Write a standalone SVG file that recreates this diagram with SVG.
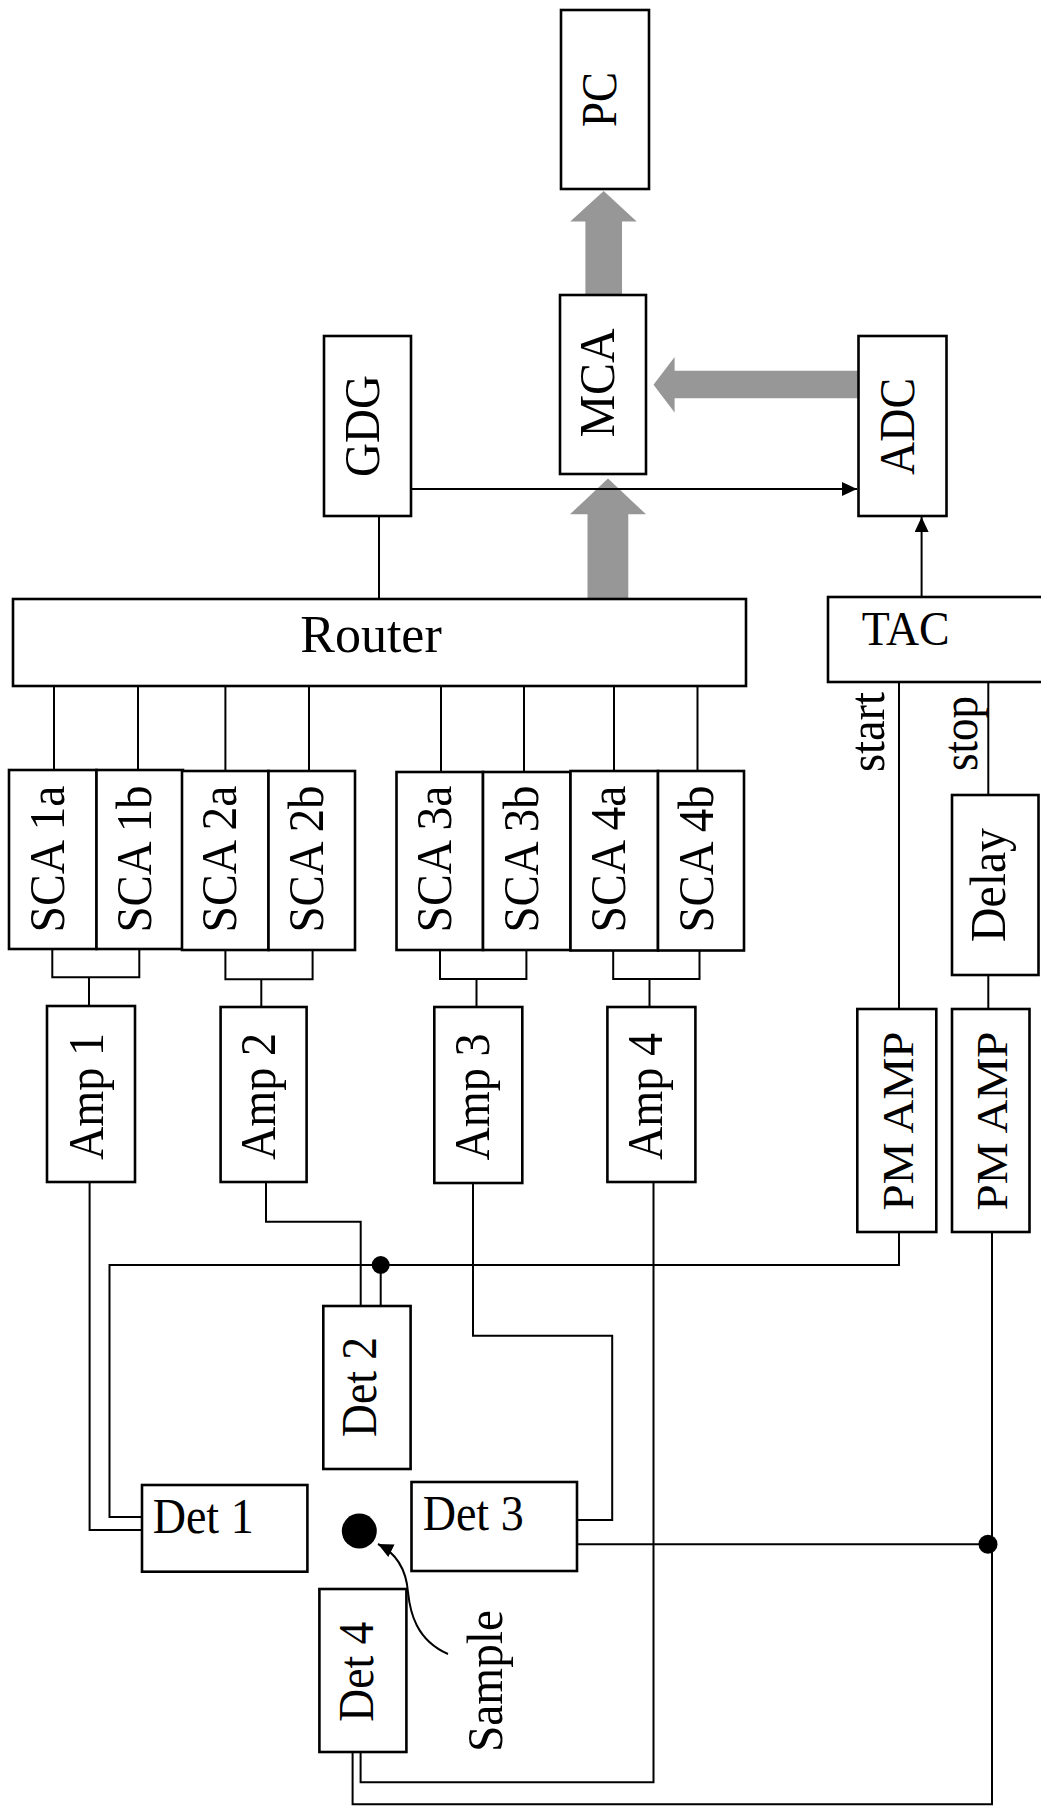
<svg xmlns="http://www.w3.org/2000/svg" width="1041" height="1807" viewBox="0 0 1041 1807">
<style>
.box{fill:#fff;stroke:#000;stroke-width:2.6}
.ln{fill:none;stroke:#000;stroke-width:2}
.gray{fill:#979797;stroke:none}
.t{font-family:"Liberation Serif","Times New Roman",serif;font-size:50px;fill:#000}
.m{text-anchor:middle}
.dot{fill:#000}
</style>
<defs>
<marker id="ah" markerUnits="userSpaceOnUse" markerWidth="16" markerHeight="14" refX="15" refY="7" orient="auto">
<path d="M0,0 L15,7 L0,14 Z" fill="#000"/>
</marker>
</defs>

<g id="connectors">
<path class="gray" d="M587.5,599 V514.3 H570 L608,478.6 L646,514.3 H628.3 V599 Z"/>
<path class="gray" d="M585.4,295 V221.4 H570.2 L603.7,191 L636.7,221.4 H622 V295 Z"/>
<path class="gray" d="M858.5,370.7 H674.6 V357 L653.5,384.7 L674.6,412.5 V398.2 H858.5 Z"/>
<path class="ln" d="M411,489 H857" marker-end="url(#ah)"/>
<path class="ln" d="M921.6,597 V517" marker-end="url(#ah)"/>
<path class="ln" d="M379,516 V599"/>
<path class="ln" d="M54,686 V770 M138,686 V770 M225.4,686 V771 M309,686 V771 M441,686 V772 M524,686 V772 M614,686 V771 M697.5,686 V771"/>
<path class="ln" d="M52.3,949 V977.3 H139.3 V949 M89,977.3 V1006"/>
<path class="ln" d="M225.4,950 V979.3 H312.6 V950 M261.3,979.3 V1007"/>
<path class="ln" d="M440,950 V979 H526.4 V950 M476.5,979 V1007"/>
<path class="ln" d="M613.2,950.5 V979 H699.5 V950.5 M649.5,979 V1007"/>
<path class="ln" d="M899,682 V1009 M988.3,682 V795 M988.3,975 V1009"/>
<path class="ln" d="M89.6,1182 V1530 H142"/>
<path class="ln" d="M266,1182 V1221.7 H360.7 V1306"/>
<path class="ln" d="M899,1232 V1265 H109.5 V1517 H142 M380.7,1265 V1306"/>
<circle class="dot" cx="380.7" cy="1265" r="9"/>
<path class="ln" d="M473,1182 V1335.7 H612.2 V1520 H577"/>
<path class="ln" d="M577,1544.3 H992"/>
<circle class="dot" cx="988" cy="1544.3" r="9.5"/>
<path class="ln" d="M992,1232 V1804.3 H352.6 V1752"/>
<path class="ln" d="M653.5,1182 V1782.3 H360.6 V1752"/>
<path class="ln" d="M448,1654 C416,1640 410,1612 408,1592 C406,1568 396,1553 378,1544" marker-end="url(#ah)"/>
</g>

<g id="pc"><rect class="box" x="561" y="10" width="88" height="179"/><text class="t m" transform="translate(615.7,99.5) rotate(-90)" textLength="55" lengthAdjust="spacingAndGlyphs">PC</text></g>
<g id="mca"><rect class="box" x="560" y="295" width="86" height="179"/><text class="t m" transform="translate(613.5,383) rotate(-90)" textLength="109" lengthAdjust="spacingAndGlyphs">MCA</text></g>
<g id="gdg"><rect class="box" x="324" y="336" width="87" height="180"/><text class="t m" transform="translate(379,426) rotate(-90)" textLength="102" lengthAdjust="spacingAndGlyphs">GDG</text></g>
<g id="adc"><rect class="box" x="858.5" y="336" width="88" height="180"/><text class="t m" transform="translate(913.6,426.4) rotate(-90)" textLength="97" lengthAdjust="spacingAndGlyphs">ADC</text></g>
<g id="router"><rect class="box" x="13" y="599" width="733" height="87"/><text class="t m" x="371" y="651.7" style="font-size:52px" textLength="141.5" lengthAdjust="spacingAndGlyphs">Router</text></g>
<g id="tac"><rect class="box" x="828" y="597" width="220" height="85"/><text class="t" x="861.7" y="644.8" style="font-size:48px" textLength="88" lengthAdjust="spacingAndGlyphs">TAC</text></g>
<g id="start-label"><text class="t m" transform="translate(884,732) rotate(-90)" textLength="80" lengthAdjust="spacingAndGlyphs">start</text></g>
<g id="stop-label"><text class="t m" transform="translate(977,733.4) rotate(-90)" textLength="75" lengthAdjust="spacingAndGlyphs">stop</text></g>
<g id="delay"><rect class="box" x="952" y="795" width="86.5" height="180"/><text class="t m" transform="translate(1005,885) rotate(-90)" textLength="114" lengthAdjust="spacingAndGlyphs">Delay</text></g>

<g id="sca1a"><rect class="box" x="9" y="770" width="87.5" height="179"/><text class="t m" transform="translate(63.5,859) rotate(-90)" textLength="147" lengthAdjust="spacingAndGlyphs">SCA 1a</text></g>
<g id="sca1b"><rect class="box" x="96.5" y="770" width="86.5" height="179"/><text class="t m" transform="translate(151,859) rotate(-90)" textLength="147" lengthAdjust="spacingAndGlyphs">SCA 1b</text></g>
<g id="sca2a"><rect class="box" x="182" y="771" width="86.5" height="179"/><text class="t m" transform="translate(236.3,859) rotate(-90)" textLength="147" lengthAdjust="spacingAndGlyphs">SCA 2a</text></g>
<g id="sca2b"><rect class="box" x="268.5" y="771" width="86.5" height="179"/><text class="t m" transform="translate(322.5,859) rotate(-90)" textLength="147" lengthAdjust="spacingAndGlyphs">SCA 2b</text></g>
<g id="sca3a"><rect class="box" x="396.5" y="772" width="86.5" height="178"/><text class="t m" transform="translate(450.8,859) rotate(-90)" textLength="147" lengthAdjust="spacingAndGlyphs">SCA 3a</text></g>
<g id="sca3b"><rect class="box" x="483" y="772" width="87.5" height="178"/><text class="t m" transform="translate(538,859) rotate(-90)" textLength="147" lengthAdjust="spacingAndGlyphs">SCA 3b</text></g>
<g id="sca4a"><rect class="box" x="570.5" y="771" width="87.5" height="179.5"/><text class="t m" transform="translate(625.3,859) rotate(-90)" textLength="147" lengthAdjust="spacingAndGlyphs">SCA 4a</text></g>
<g id="sca4b"><rect class="box" x="658" y="771" width="86" height="179.5"/><text class="t m" transform="translate(712.6,859) rotate(-90)" textLength="147" lengthAdjust="spacingAndGlyphs">SCA 4b</text></g>

<g id="amp1"><rect class="box" x="47" y="1006" width="88" height="176"/><text class="t m" transform="translate(102.5,1096.5) rotate(-90)" textLength="127" lengthAdjust="spacingAndGlyphs">Amp 1</text></g>
<g id="amp2"><rect class="box" x="220.6" y="1007" width="86" height="175"/><text class="t m" transform="translate(275,1096.5) rotate(-90)" textLength="127" lengthAdjust="spacingAndGlyphs">Amp 2</text></g>
<g id="amp3"><rect class="box" x="434.3" y="1007" width="88" height="176"/><text class="t m" transform="translate(488.5,1097) rotate(-90)" textLength="127" lengthAdjust="spacingAndGlyphs">Amp 3</text></g>
<g id="amp4"><rect class="box" x="607.4" y="1007" width="88" height="175"/><text class="t m" transform="translate(662,1096.5) rotate(-90)" textLength="127" lengthAdjust="spacingAndGlyphs">Amp 4</text></g>

<g id="pmamp1"><rect class="box" x="857.3" y="1009" width="79" height="223"/><text class="t m" transform="translate(912.7,1121) rotate(-90)" style="font-size:44px" textLength="179" lengthAdjust="spacingAndGlyphs">PM AMP</text></g>
<g id="pmamp2"><rect class="box" x="952" y="1009" width="77.5" height="223"/><text class="t m" transform="translate(1006.7,1121) rotate(-90)" style="font-size:44px" textLength="179" lengthAdjust="spacingAndGlyphs">PM AMP</text></g>

<g id="det2"><rect class="box" x="323.3" y="1306" width="87.3" height="163"/><text class="t m" transform="translate(376,1387) rotate(-90)" textLength="100" lengthAdjust="spacingAndGlyphs">Det 2</text></g>
<g id="det1"><rect class="box" x="142" y="1485" width="165.4" height="86.7"/><text class="t" x="152.7" y="1532.7" textLength="101" lengthAdjust="spacingAndGlyphs">Det 1</text></g>
<g id="det3"><rect class="box" x="411.5" y="1482" width="165.5" height="89"/><text class="t" x="422.7" y="1530" textLength="101" lengthAdjust="spacingAndGlyphs">Det 3</text></g>
<g id="det4"><rect class="box" x="319.4" y="1589" width="87" height="163"/><text class="t m" transform="translate(372.7,1671.7) rotate(-90)" textLength="100" lengthAdjust="spacingAndGlyphs">Det 4</text></g>
<g id="sample"><circle class="dot" cx="359.3" cy="1531" r="17.5"/><text class="t m" transform="translate(501.7,1681) rotate(-90)" textLength="142" lengthAdjust="spacingAndGlyphs">Sample</text></g>
</svg>
